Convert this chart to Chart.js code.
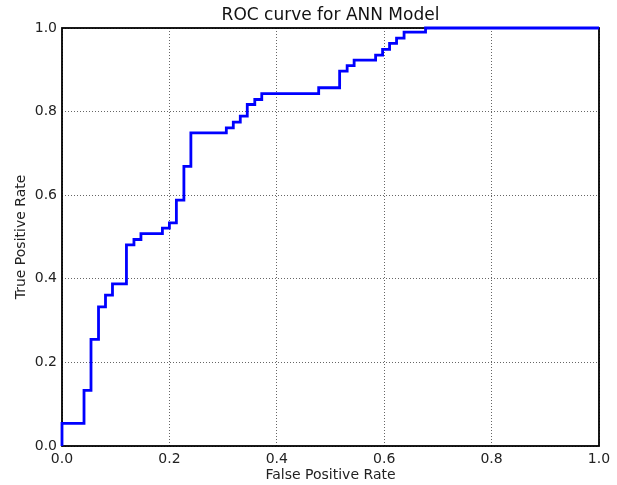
<!DOCTYPE html>
<html>
<head>
<meta charset="utf-8">
<script src="https://cdn.jsdelivr.net/npm/chart.js@4"></script>
<style>
  html, body { margin: 0; padding: 0; background: #fff; }
  #wrap { width: 617px; height: 485px; }
</style>
</head>
<body>
<div id="wrap"><canvas id="roc"></canvas></div>
<script>
const TITLE = 'ROC curve for ANN Model';
const X_LABEL = 'False Positive Rate';
const Y_LABEL = 'True Positive Rate';
const TICKS = [0.0, 0.2, 0.4, 0.6, 0.8, 1.0];

// corner points of the ROC step curve
const fpr = [
  0, 0, 0.041, 0.041, 0.054, 0.054, 0.068, 0.068, 0.081, 0.081,
  0.094, 0.094, 0.12, 0.12, 0.134, 0.134, 0.147, 0.147, 0.187, 0.187,
  0.2, 0.2, 0.213, 0.213, 0.227, 0.227, 0.24, 0.24, 0.306, 0.306,
  0.319, 0.319, 0.332, 0.332, 0.345, 0.345, 0.359, 0.359, 0.372, 0.372,
  0.478, 0.478, 0.517, 0.517, 0.531, 0.531, 0.544, 0.544, 0.584, 0.584,
  0.597, 0.597, 0.61, 0.61, 0.623, 0.623, 0.637, 0.637, 0.677, 0.677,
  1.0,
];
const tpr = [
  0, 0.054, 0.054, 0.133, 0.133, 0.255, 0.255, 0.333, 0.333, 0.361,
  0.361, 0.388, 0.388, 0.481, 0.481, 0.494, 0.494, 0.508, 0.508, 0.521,
  0.521, 0.534, 0.534, 0.588, 0.588, 0.669, 0.669, 0.749, 0.749, 0.761,
  0.761, 0.775, 0.775, 0.789, 0.789, 0.817, 0.817, 0.829, 0.829, 0.843,
  0.843, 0.857, 0.857, 0.897, 0.897, 0.91, 0.91, 0.923, 0.923, 0.935,
  0.935, 0.949, 0.949, 0.963, 0.963, 0.976, 0.976, 0.99, 0.99, 1.0,
  1.0,
];

const FONT = 'DejaVu Sans';

// black frame round the plot area, drawn under the curve
const frame = {
  id: 'frame',
  beforeDatasetsDraw(chart) {
    const { ctx, chartArea: a } = chart;
    ctx.save();
    ctx.strokeStyle = '#000';
    ctx.lineWidth = 1.8;
    ctx.strokeRect(a.left, a.top, a.right - a.left, a.bottom - a.top);
    ctx.restore();
  },
};

function axis(label, fit) {
  return {
    type: 'linear',
    min: 0,
    max: 1,
    afterBuildTicks: (s) => { s.ticks = TICKS.map((v) => ({ value: v })); },
    afterFit: fit,
    ticks: {
      color: '#222',
      padding: 5,
      font: { family: FONT, size: 14 },
      callback: (v) => Number(v).toFixed(1),
    },
    grid: { color: '#666', lineWidth: 1, drawTicks: false },
    border: { display: false, dash: [1, 2] },
    title: {
      display: true,
      text: label,
      color: '#222',
      font: { family: FONT, size: 14 },
    },
  };
}

const xAxis = axis(X_LABEL, (s) => { s.height = 39; });
xAxis.title.padding = { top: 0, bottom: 1 };
const yAxis = axis(Y_LABEL, (s) => { s.width = 62; });
yAxis.title.padding = { top: 13, bottom: 0 };

new Chart(document.getElementById('roc'), {
  type: 'scatter',
  data: {
    datasets: [{
      data: fpr.map((x, i) => ({ x, y: tpr[i] })),
      showLine: true,
      borderColor: '#0000ff',
      borderWidth: 2.8,
      pointRadius: 0,
      tension: 0,
      clip: 3,
    }],
  },
  options: {
    responsive: true,
    maintainAspectRatio: false,
    animation: false,
    layout: { padding: { left: 0, right: 18, top: 0, bottom: 0 } },
    plugins: {
      legend: { display: false },
      tooltip: { enabled: false },
      title: {
        display: true,
        text: TITLE,
        fullSize: false,
        color: '#111',
        font: { family: FONT, size: 17, weight: 'normal', lineHeight: 1.2 },
        padding: { top: 5.5, bottom: 2.1 },
      },
    },
    scales: { x: xAxis, y: yAxis },
  },
  plugins: [frame],
});
</script>
</body>
</html>
